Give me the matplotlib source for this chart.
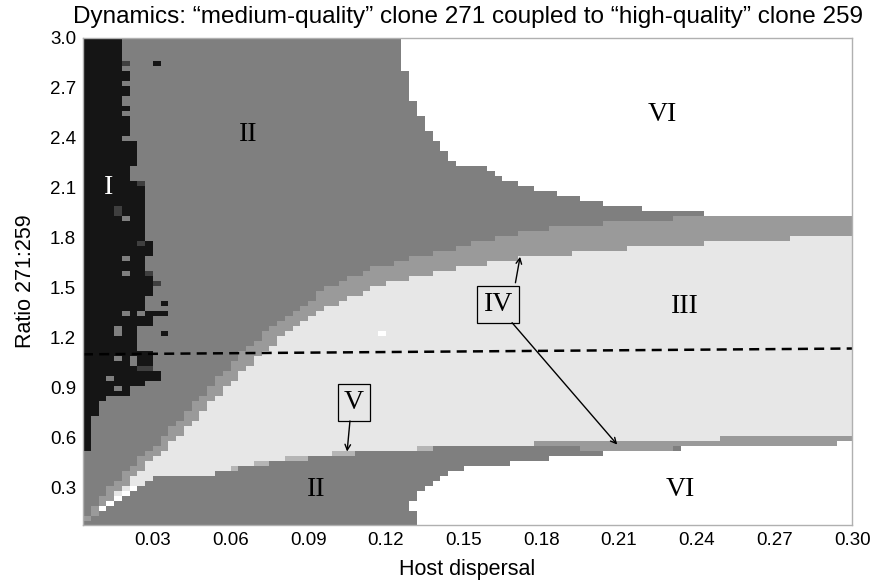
import numpy as np
import matplotlib.pyplot as plt
from matplotlib.colors import ListedColormap, BoundaryNorm

# simulation grid: host dispersal (x) by ratio 271:259 (y)
x_edges = np.arange(0.003, 0.3001, 0.003)
y_edges = np.arange(0.07, 3.0101, 0.03)

# regimes, in colour order
I, DK, II, IV, V, III, VI = range(7)
regime_colors = ['#151515', '#3f3f3f', '#7f7f7f', '#9a9a9a', '#b5b5b5', '#e7e7e7', '#ffffff']

# top of the IV band (II above it)
iv_top_x = [0.003, 0.0055, 0.008, 0.011, 0.014, 0.018, 0.023, 0.028, 0.032, 0.039, 0.045, 0.050,
            0.056, 0.062, 0.068, 0.073, 0.080, 0.085, 0.090, 0.094, 0.100, 0.106, 0.112, 0.118,
            0.130, 0.136, 0.151, 0.160, 0.169, 0.180, 0.195, 0.216, 0.245, 0.300]
iv_top_y = [0.12, 0.16, 0.21, 0.26, 0.31, 0.37, 0.44, 0.51, 0.57, 0.68, 0.78, 0.87,
            0.97, 1.07, 1.16, 1.22, 1.30, 1.35, 1.40, 1.47, 1.52, 1.56, 1.60, 1.63,
            1.68, 1.70, 1.75, 1.79, 1.82, 1.85, 1.87, 1.90, 1.93, 1.93]

# top of region III (bottom of the IV band)
iii_top_x = [0.003, 0.008, 0.014, 0.018, 0.023, 0.028, 0.032, 0.039, 0.045, 0.050, 0.056, 0.062,
             0.068, 0.071, 0.077, 0.083, 0.089, 0.094, 0.103, 0.112, 0.124, 0.139, 0.156, 0.169,
             0.183, 0.200, 0.227, 0.260, 0.295, 0.300]
iii_top_y = [0.07, 0.15, 0.24, 0.30, 0.37, 0.44, 0.49, 0.59, 0.68, 0.78, 0.87, 0.96,
             1.05, 1.11, 1.17, 1.24, 1.31, 1.35, 1.42, 1.48, 1.54, 1.59, 1.64, 1.67,
             1.69, 1.72, 1.75, 1.78, 1.81, 1.83]

# bottom of region III (steps, value holds from x on)
iii_bot_x = [0.0, 0.006, 0.009, 0.012, 0.015, 0.018, 0.021, 0.024, 0.027, 0.030, 0.053, 0.062,
             0.074, 0.089, 0.109, 0.139, 0.177, 0.248]
iii_bot_y = [0.10, 0.13, 0.16, 0.19, 0.22, 0.25, 0.28, 0.31, 0.34, 0.37, 0.40, 0.43,
             0.46, 0.49, 0.52, 0.55, 0.58, 0.61]
corner_white_xmax = 0.025

# lower IV band bottom (steps)
lowiv_x = [0.0, 0.177, 0.195, 0.204]
lowiv_y = [9.0, 0.55, 0.52, 0.0]

# top of the lower VI region (steps)
vi_low_x = [0.0, 0.132, 0.135, 0.138, 0.141, 0.144, 0.150, 0.168, 0.183, 0.204, 0.231, 0.295]
vi_low_y = [0.0, 0.29, 0.32, 0.35, 0.38, 0.41, 0.43, 0.46, 0.49, 0.52, 0.55, 0.58]

# bottom of the upper VI region (steps)
vi_up_x = [0.0, 0.126, 0.129, 0.132, 0.135, 0.138, 0.141, 0.144, 0.147, 0.159, 0.162, 0.165,
           0.171, 0.177, 0.186, 0.195, 0.204, 0.219, 0.243]
vi_up_y = [9.0, 2.80, 2.62, 2.53, 2.44, 2.38, 2.32, 2.26, 2.23, 2.20, 2.17, 2.14,
           2.11, 2.08, 2.05, 2.02, 1.99, 1.96, 1.93]

# right edge of region I per band of ratio (band holds from y_low upward)
black_ylow = [2.87, 2.83, 2.79, 2.75, 2.72, 2.66, 2.60, 2.56, 2.53, 2.39, 2.22, 2.17, 2.13,
              2.05, 1.77, 1.69, 1.60, 1.45, 1.35, 1.27, 1.11, 0.99, 0.95, 0.90, 0.86, 0.83,
              0.73, 0.53]
black_xr = [0.018, 0.021, 0.018, 0.021, 0.018, 0.021, 0.018, 0.021, 0.018, 0.021, 0.024, 0.021,
            0.024, 0.027, 0.027, 0.030, 0.027, 0.030, 0.027, 0.030, 0.024, 0.030, 0.033, 0.027,
            0.021, 0.012, 0.009, 0.006]

# thin V strips along the lower edge of III
v_x0 = [0.059, 0.068, 0.080, 0.098, 0.133]
v_x1 = [0.062, 0.074, 0.089, 0.109, 0.139]
v_y = [0.40, 0.43, 0.46, 0.49, 0.52]

# isolated cells
spk_x = [0.019, 0.031, 0.019, 0.022, 0.025, 0.016, 0.016, 0.019, 0.025, 0.028, 0.019, 0.019,
         0.028, 0.031, 0.034, 0.019, 0.025, 0.031, 0.034, 0.016, 0.034, 0.016, 0.022, 0.028,
         0.016, 0.022, 0.025, 0.013, 0.016, 0.031, 0.119, 0.1305, 0.1305, 0.2325]
spk_y = [2.845, 2.845, 2.395, 2.155, 2.125, 1.975, 1.945, 1.915, 1.765, 1.765, 1.675, 1.585,
         1.585, 1.525, 1.405, 1.345, 1.345, 1.345, 1.345, 1.255, 1.225, 1.225, 1.045, 1.015,
         1.075, 1.075, 1.015, 0.955, 0.895, 0.955, 1.225, 0.175, 0.205, 0.535]
spk_cls = [DK, I, II, II, DK, DK, DK, II, DK, I, II, II,
           DK, DK, I, II, II, I, I, II, I, II, II, DK,
           II, II, DK, II, II, I, VI, VI, VI, II]

# dashed reference line
dash_x = [0.003, 0.300]
dash_y = [1.10, 1.135]


def step(xs, ys, x):
    idx = np.searchsorted(xs, x, side='right') - 1
    return np.asarray(ys)[np.clip(idx, 0, len(ys) - 1)]


xc = (x_edges[:-1] + x_edges[1:]) / 2
yc = (y_edges[:-1] + y_edges[1:]) / 2
X, Y = np.meshgrid(xc, yc)

top_iv = np.interp(xc, iv_top_x, iv_top_y)
top_iii = np.interp(xc, iii_top_x, iii_top_y)
bot_iii = step(iii_bot_x, iii_bot_y, xc)
bot_lowiv = step(lowiv_x, lowiv_y, xc)
top_vilow = step(vi_low_x, vi_low_y, xc)
bot_viup = step(vi_up_x, vi_up_y, xc)

grid = np.full(X.shape, II)
grid[(Y < top_iv) & (Y >= top_iii)] = IV
grid[(Y < top_iii) & (Y >= bot_iii)] = III
grid[(X < corner_white_xmax) & (Y >= bot_iii) & (Y < bot_iii + 0.03) & (Y < top_iii)] = VI
grid[(Y < bot_iii) & (Y >= bot_lowiv)] = IV
grid[Y < top_vilow] = VI
grid[Y >= bot_viup] = VI

for x0, x1, y0 in zip(v_x0, v_x1, v_y):
    grid[(X > x0) & (X < x1) & (Y > y0) & (Y < y0 + 0.03)] = V

for j, y in enumerate(yc):
    for ylow, xr in zip(black_ylow, black_xr):
        if y >= ylow:
            grid[j, xc < xr] = I
            break

for sx, sy, c in zip(spk_x, spk_y, spk_cls):
    i = np.argmin(np.abs(xc - sx))
    j = np.argmin(np.abs(yc - sy))
    grid[j, i] = c

cmap = ListedColormap(regime_colors)
norm = BoundaryNorm(np.arange(-0.5, 7.5, 1), cmap.N)

fig = plt.figure(figsize=(8.77, 5.84), dpi=100)
ax = fig.add_axes([0.0946, 0.101, 0.877, 0.834])
ax.pcolormesh(x_edges, y_edges, grid, cmap=cmap, norm=norm, shading='flat')
ax.plot(dash_x, dash_y, color='black', linestyle=(0, (4, 2.5)), linewidth=1.8)

ax.set_xlim(0.003, 0.3)
ax.set_ylim(0.075, 3.0)
ax.set_xticks(np.arange(0.03, 0.3001, 0.03))
ax.set_xticklabels(['%.2f' % v for v in np.arange(0.03, 0.3001, 0.03)])
ax.set_yticks(np.arange(0.3, 3.001, 0.3))
ax.set_yticklabels(['%.1f' % v for v in np.arange(0.3, 3.001, 0.3)])
ax.tick_params(length=0, labelsize=13.5)
ax.tick_params(axis='x', pad=5)
ax.tick_params(axis='y', pad=5)
for s in ax.spines.values():
    s.set_color('#b0b0b0')
    s.set_linewidth(1.0)
for lab in ax.get_xticklabels() + ax.get_yticklabels():
    lab.set_family('Liberation Sans')

ax.set_xlabel('Host dispersal', fontsize=15.5, family='Liberation Sans', labelpad=7)
ax.set_ylabel('Ratio 271:259', fontsize=15.5, family='Liberation Sans', labelpad=10)
ax.set_title('Dynamics: \u201cmedium-quality\u201d clone 271 coupled to \u201chigh-quality\u201d clone 259',
             fontsize=17.5, family='Liberation Sans', pad=11)

roman = dict(fontsize=20, family='Liberation Serif', ha='center', va='center')
ax.text(0.0127, 2.10, 'I', color='white', **roman)
ax.text(0.0667, 2.42, 'II', **roman)
ax.text(0.2266, 2.54, 'VI', **roman)
ax.text(0.2355, 1.39, 'III', **roman)
ax.text(0.093, 0.29, 'II', **roman)
ax.text(0.2336, 0.29, 'VI', **roman)
box = dict(boxstyle='square,pad=0.22', facecolor='none', edgecolor='black', linewidth=0.9)
ax.text(0.1633, 1.40, 'IV', bbox=box, **roman)
ax.text(0.1077, 0.81, 'V', bbox=box, **roman)

arrow = dict(arrowstyle='->', color='black', linewidth=1.0, shrinkA=0, shrinkB=0)
ax.annotate('', xy=(0.1718, 1.686), xytext=(0.1700, 1.53), arrowprops=arrow)
ax.annotate('', xy=(0.2093, 0.558), xytext=(0.1687, 1.29), arrowprops=arrow)
ax.annotate('', xy=(0.1050, 0.516), xytext=(0.1061, 0.70), arrowprops=arrow)

plt.savefig('out.png', dpi=100)
